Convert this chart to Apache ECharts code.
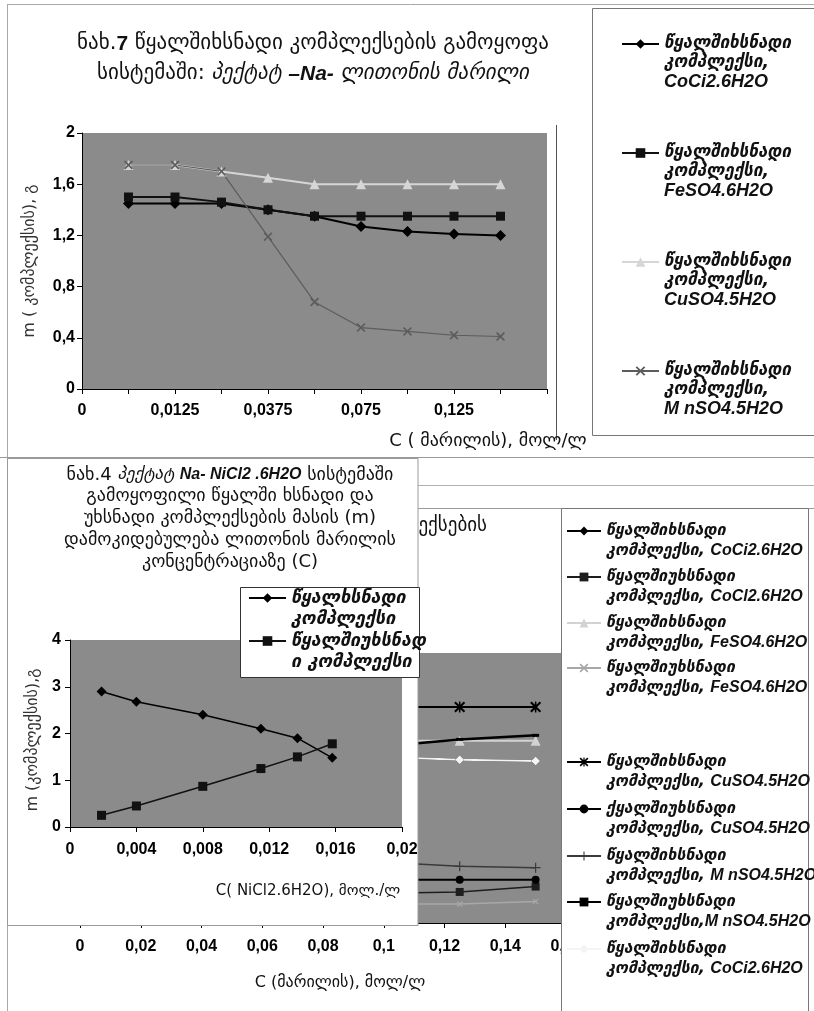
<!DOCTYPE html>
<html><head><meta charset="utf-8">
<script src="https://cdn.jsdelivr.net/npm/echarts/dist/echarts.min.js"></script>
<style>html,body{margin:0;padding:0;background:#fff}#c{width:814px;height:1011px}</style>
</head><body><div id="c"></div>
<script>
// ---------------- DATA ----------------
const concentrationLabels = ['0','0,00625','0,0125','0,025','0,0375','0,05','0,075','0,1','0,125','0,15',''];
const concentrations = [0.00625,0.0125,0.025,0.0375,0.05,0.075,0.1,0.125,0.15];
const cocl2Soluble = [1.45,1.45,1.45,1.40,1.35,1.27,1.23,1.21,1.20];
const feso4Soluble = [1.50,1.50,1.46,1.40,1.35,1.35,1.35,1.35,1.35];
const cuso4Soluble = [1.75,1.75,1.70,1.65,1.60,1.60,1.60,1.60,1.60];
const mnso4Soluble = [1.75,1.75,1.70,1.19,0.68,0.48,0.45,0.42,0.41];

const insolubleConc = [0.1,0.125,0.15];
const cocl2Insoluble = [0.22,0.23,0.27];
const feso4Insoluble = [0.14,0.14,0.16];
const cuso4Insoluble = [0.32,0.32,0.32];
const mnso4Insoluble = [1.31,1.36,1.39];

const nicl2Conc = [0.0019,0.0040,0.0080,0.0115,0.0137,0.0158];
const nicl2Soluble = [2.90,2.68,2.40,2.10,1.90,1.48];
const nicl2Insoluble = [0.25,0.45,0.87,1.25,1.50,1.78];

const topLegendLabels = [
  ['წყალშიხსნადი','კომპლექსი,','CoCi2.6H2O'],
  ['წყალშიხსნადი','კომპლექსი,','FeSO4.6H2O'],
  ['წყალშიხსნადი','კომპლექსი,','CuSO4.5H2O'],
  ['წყალშიხსნადი','კომპლექსი,','M nSO4.5H2O']
];
const bottomLegendLabels = [
  ['წყალშიხსნადი','კომპლექსი, ','CoCi2.6H2O'],
  ['წყალშიუხსნადი','კომპლექსი, ','CoCl2.6H2O'],
  ['წყალშიხსნადი','კომპლექსი, ','FeSO4.6H2O'],
  ['წყალშიუხსნადი','კომპლექსი, ','FeSO4.6H2O'],
  ['წყალშიხსნადი','კომპლექსი, ','CuSO4.5H2O'],
  ['ქყალშიუხსნადი','კომპლექსი, ','CuSO4.5H2O'],
  ['წყალშიხსნადი','კომპლექსი, ','M nSO4.5H2O'],
  ['წყალშიუხსნადი','კომპლექსი,','M nSO4.5H2O'],
  ['წყალშიხსნადი','კომპლექსი, ','CoCi2.6H2O']
];
const insetLegendLabels = [['წყალხსნადი','კომპლექსი'],['წყალშიუხსნად','ი კომპლექსი']];

const topTitleLines = ['{n|ნახ.}{b|7}{n| წყალშიხსნადი კომპლექსების გამოყოფა}',
  '{n|სისტემაში: }{i|პექტატ }{bi|–Na-}{i| ლითონის მარილი}'];
const insetTitleLines = ['{n|ნახ.4 }{i|პექტატ }{bi|Na- NiCl2 .6H2O}{n| სისტემაში}',
  '{n|გამოყოფილი წყალში ხსნადი და}','{n|უხსნადი კომპლექსების მასის (m)}',
  '{n|დამოკიდებულება ლითონის მარილის}','{n|კონცენტრაციაზე (C)}'];
const bottomTitleText = 'ნახ.8 წყალშიხსნადი და უხსნადი კომპლექსების';

// ---------------- STYLE ----------------
const GEO = "'DejaVu Sans', sans-serif";
const LAT = "'Liberation Sans', Arial, sans-serif";
const NAR = "'Liberation Sans Narrow','Arial Narrow','Liberation Sans',sans-serif";
const PLOT_BG = '#8b8b8b';
const X_PATH = 'path://M0,1.3L1.3,0L5,3.7L8.7,0L10,1.3L6.3,5L10,8.7L8.7,10L5,6.3L1.3,10L0,8.7L3.7,5Z';
const STAR_PATH = 'path://M0,1.3L1.3,0L5,3.7L8.7,0L10,1.3L6.3,5L10,8.7L8.7,10L5,6.3L1.3,10L0,8.7L3.7,5Z M4.3,0H5.7V10H4.3Z';
const PLUS_PATH = 'path://M4.4,0H5.6V4.4H10V5.6H5.6V10H4.4V5.6H0V4.4H4.4Z';
const comma = v => String(+(+v).toFixed(4)).replace('.', ',');

const chart = echarts.init(document.getElementById('c'));

function lineSeries(name, data, xi, color, width, symbol, size, z) {
  return {type:'line', name, data, xAxisIndex:xi, yAxisIndex:xi, z,
    symbol, symbolSize:size, showSymbol:true,
    lineStyle:{color, width}, itemStyle:{color, borderWidth:0}, animation:false};
}
const pairs = (xs, ys) => xs.map((x,i)=>[x, ys[i]]);
const padTop = arr => ['-'].concat(arr);

const series = [
  // top chart
  lineSeries('t1', padTop(cocl2Soluble), 0, '#000', 2, 'diamond', 11, 3),
  lineSeries('t2', padTop(feso4Soluble), 0, '#111', 2, 'rect', 9, 3),
  lineSeries('t3', padTop(cuso4Soluble), 0, '#d6d6d6', 2, 'triangle', 10, 3),
  lineSeries('t4', padTop(mnso4Soluble), 0, '#5c5c5c', 1.2, X_PATH, 9, 3),
  // bottom chart
  lineSeries('b1', pairs(concentrations, cocl2Soluble), 1, '#000', 2, 'diamond', 9, 3),
  lineSeries('b2', pairs(insolubleConc, cocl2Insoluble), 1, '#1e1e1e', 1.5, 'rect', 8, 3),
  lineSeries('b3', pairs(concentrations, feso4Soluble), 1, '#d2d2d2', 2, 'triangle', 10, 3),
  lineSeries('b4', pairs(insolubleConc, feso4Insoluble), 1, '#a8a8a8', 1.5, X_PATH, 6, 3),
  lineSeries('b5', pairs(concentrations, cuso4Soluble), 1, '#000', 2, STAR_PATH, 11, 3),
  lineSeries('b6', pairs(insolubleConc, cuso4Insoluble), 1, '#000', 2, 'circle', 8, 3),
  lineSeries('b7', pairs(concentrations, mnso4Soluble), 1, '#3a3a3a', 1.5, PLUS_PATH, 10, 3),
  lineSeries('b8', pairs(insolubleConc, mnso4Insoluble), 1, '#000', 2.5, 'rect', [7,3], 3),
  lineSeries('b9', pairs(concentrations, cocl2Soluble), 1, '#f4f4f4', 2, 'diamond', 9, 3),
  // inset chart
  lineSeries('i1', pairs(nicl2Conc, nicl2Soluble), 2, '#000', 1.5, 'diamond', 10, 24),
  lineSeries('i2', pairs(nicl2Conc, nicl2Insoluble), 2, '#111', 1.5, 'rect', 9, 24)
];

function richStyles(L, gs, fs) {
  return {
    g:{fontFamily:GEO, fontStyle:'italic', fontWeight:'bold', fontSize:gs, lineHeight:L, color:'#111'},
    f:{fontFamily:LAT, fontStyle:'italic', fontWeight:'bold', fontSize:fs, lineHeight:L, color:'#111'},
    e:{fontFamily:LAT, fontSize:gs, lineHeight:L}
  };
}
function makeLegend(key, lines, left, y1, L, iw, ih, gs, fs, z) {
  const blanks = [];
  for (let i = 1; i < lines.length; i++) blanks.push('{e| }');
  const text = blanks.concat(lines).join('\n');
  const n = blanks.length + lines.length;
  return {show:true, data:[key], left, top: y1 - n*L/2, orient:'vertical', padding:0,
    itemWidth:iw, itemHeight:ih, itemGap:0, selectedMode:false, z,
    formatter: () => text, textStyle:{lineHeight:L, rich: richStyles(L, gs, fs)}};
}
const legends = [];
const topLegendY = [44, 153, 262, 371];
topLegendLabels.forEach((lb, i) => legends.push(makeLegend('t'+(i+1),
  ['{g|'+lb[0]+'}','{g|'+lb[1]+'}','{f|'+lb[2]+'}'], 621, topLegendY[i], 19, 37, 12, 17, 18, 5)));
const bottomLegendY = [531, 577, 623, 668, 762, 809, 856, 902, 949];
bottomLegendLabels.forEach((lb, i) => legends.push(makeLegend('b'+(i+1),
  ['{g|'+lb[0]+'}','{g|'+lb[1]+'}{f|'+lb[2]+'}'], 566, bottomLegendY[i], 19.5, 34, 11, 16, 16, 41)));
const insetLegendY = [598, 641];
insetLegendLabels.forEach((lb, i) => legends.push(makeLegend('i'+(i+1),
  ['{g|'+lb[0]+'}','{g|'+lb[1]+'}'], 248, insetLegendY[i], 21.5, 37, 12, 18, 18, 41)));

const axisLabelStyle = {color:'#000', fontFamily:NAR, fontWeight:'bold', fontSize:16};
const axLine = {show:true, lineStyle:{color:'#000', width:1}};

const option = {
  animation:false,
  backgroundColor:'#fff',
  title:[
    {text: topTitleLines.join('\n'), left:313, top:29, textAlign:'center', padding:0, z:6,
      textStyle:{fontWeight:'normal', rich:{
        n:{fontFamily:GEO, fontWeight:'normal', fontSize:21, lineHeight:30, color:'#111'},
        b:{fontFamily:LAT, fontWeight:'bold', fontSize:21, lineHeight:30, color:'#111'},
        i:{fontFamily:GEO, fontStyle:'italic', fontWeight:'normal', fontSize:21, lineHeight:30, color:'#111'},
        bi:{fontFamily:LAT, fontStyle:'italic', fontWeight:'bold', fontSize:21, lineHeight:30, color:'#111'}}}},
    {text: bottomTitleText, right:327, top:517, padding:0, z:1,
      textStyle:{fontFamily:GEO, fontSize:19, fontWeight:'normal', color:'#111'}},
    {text: insetTitleLines.join('\n'), left:230, top:464, textAlign:'center', padding:0, z:25,
      textStyle:{fontWeight:'normal', rich:{
        n:{fontFamily:GEO, fontWeight:'normal', fontSize:18, lineHeight:21.8, color:'#111'},
        i:{fontFamily:GEO, fontStyle:'italic', fontWeight:'normal', fontSize:17, lineHeight:21.8, color:'#111'},
        bi:{fontFamily:LAT, fontStyle:'italic', fontWeight:'bold', fontSize:16, lineHeight:21.8, color:'#111'}}}}
  ],
  legend: legends,
  grid:[
    {left:82, top:133, width:465, height:256, show:true, backgroundColor:PLOT_BG, borderWidth:0, z:0},
    {left:80, top:653, width:486, height:270, show:true, backgroundColor:PLOT_BG, borderWidth:0, z:0},
    {left:70, top:640, width:332, height:187, show:true, backgroundColor:PLOT_BG, borderWidth:0, z:21}
  ],
  xAxis:[
    {type:'category', gridIndex:0, data:concentrationLabels, boundaryGap:false, z:1,
      axisLine:axLine, axisTick:{show:true, interval:0, length:5, lineStyle:{color:'#000'}},
      axisLabel:Object.assign({interval:1, margin:14}, axisLabelStyle), splitLine:{show:false}},
    {type:'value', gridIndex:1, min:0, max:0.16, interval:0.02, z:1,
      axisLine:axLine, axisTick:{show:true, length:5, lineStyle:{color:'#000'}},
      axisLabel:Object.assign({margin:16, formatter:comma}, axisLabelStyle), splitLine:{show:false}},
    {type:'value', gridIndex:2, min:0, max:0.02, interval:0.004, z:22,
      axisLine:axLine, axisTick:{show:true, length:5, lineStyle:{color:'#000'}},
      axisLabel:Object.assign({margin:15, formatter:comma}, axisLabelStyle), splitLine:{show:false}}
  ],
  yAxis:[
    {type:'value', gridIndex:0, min:0, max:2, interval:0.4, z:1,
      axisLine:axLine, axisTick:{show:true, length:5, lineStyle:{color:'#000'}},
      axisLabel:Object.assign({margin:7, formatter:comma}, axisLabelStyle), splitLine:{show:false}},
    {type:'value', gridIndex:1, min:0, max:2, interval:0.4, z:1,
      axisLine:axLine, axisTick:{show:true, length:5, lineStyle:{color:'#000'}},
      axisLabel:{show:false}, splitLine:{show:false}},
    {type:'value', gridIndex:2, min:0, max:4, interval:1, z:22,
      axisLine:axLine, axisTick:{show:true, length:5, lineStyle:{color:'#000'}},
      axisLabel:Object.assign({margin:9, formatter:comma}, axisLabelStyle), splitLine:{show:false}}
  ],
  series,
  graphic:[
    {type:'line', z:0, shape:{x1:7, y1:4.5, x2:814, y2:4.5}, style:{stroke:'#a8a8a8', lineWidth:1}},
    {type:'line', z:0, shape:{x1:7.5, y1:4, x2:7.5, y2:1011}, style:{stroke:'#a8a8a8', lineWidth:1}},
    {type:'line', z:0, shape:{x1:556.5, y1:125, x2:556.5, y2:440}, style:{stroke:'#555', lineWidth:1}},
    {type:'rect', z:1, shape:{x:592.5, y:8.5, width:240, height:427}, style:{fill:'#fff', stroke:'#777', lineWidth:1}},
    {type:'line', z:0, shape:{x1:0, y1:457.5, x2:814, y2:457.5}, style:{stroke:'#9a9a9a', lineWidth:1}},
    {type:'line', z:0, shape:{x1:418, y1:485.5, x2:814, y2:485.5}, style:{stroke:'#b0b0b0', lineWidth:1}},
    {type:'line', z:0, shape:{x1:418, y1:508.5, x2:814, y2:508.5}, style:{stroke:'#9a9a9a', lineWidth:1}},
    {type:'rect', z:20, shape:{x:561.5, y:508.5, width:247, height:520}, style:{fill:'#fff', stroke:'#777', lineWidth:1}},
    {type:'rect', z:20, shape:{x:7.5, y:458.5, width:410.5, height:467}, style:{fill:'#fff', stroke:'#9a9a9a', lineWidth:1}},
    {type:'rect', z:40, shape:{x:240.5, y:587.5, width:179, height:90}, style:{fill:'#fff', stroke:'#333', lineWidth:1}},
    {type:'text', z:2, x:30, y:261, rotation:Math.PI/2,
      style:{text:'m ( კომპლექსის), გ', font:"16px 'DejaVu Sans'", fill:'#333', align:'center', verticalAlign:'middle'}},
    {type:'text', z:2, x:488, y:441,
      style:{text:'C ( მარილის), მოლ/ლ', font:"18px 'DejaVu Sans'", fill:'#111', align:'center', verticalAlign:'middle'}},
    {type:'text', z:25, x:33, y:740, rotation:Math.PI/2,
      style:{text:'m (კომპლექსის),გ', font:"16px 'DejaVu Sans'", fill:'#333', align:'center', verticalAlign:'middle'}},
    {type:'text', z:25, x:308, y:891,
      style:{text:'C( NiCl2.6H2O), მოლ./ლ', font:"15px 'DejaVu Sans'", fill:'#111', align:'center', verticalAlign:'middle'}},
    {type:'text', z:2, x:340, y:983,
      style:{text:'C (მარილის), მოლ/ლ', font:"16px 'DejaVu Sans'", fill:'#111', align:'center', verticalAlign:'middle'}}
  ]
};
chart.setOption(option);
</script></body></html>
